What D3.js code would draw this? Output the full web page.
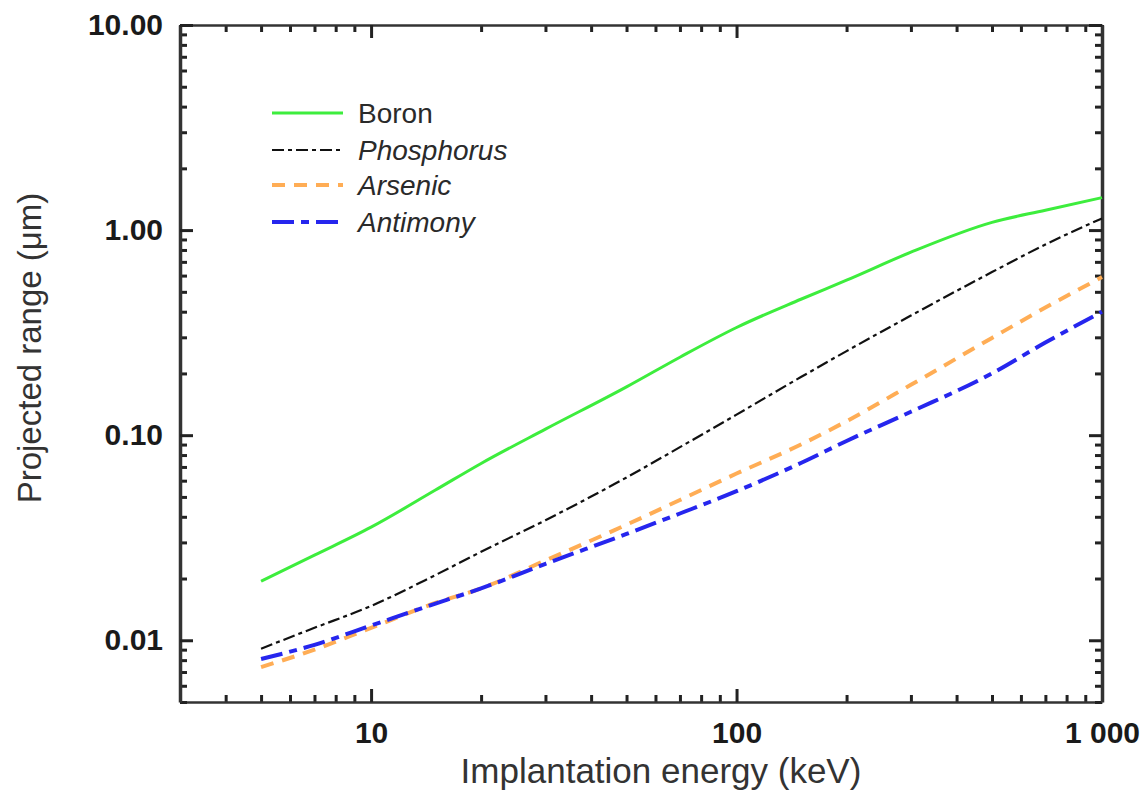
<!DOCTYPE html>
<html>
<head>
<meta charset="utf-8">
<script src="https://cdn.jsdelivr.net/npm/d3@7"></script>
<style>
body { margin: 0; background: #fff; }
text { font-family: "Liberation Sans", Arial, Helvetica, sans-serif; }
</style>
</head>
<body>
<div id="chart"></div>
<script>
/* data */
var energies   = [5, 7, 10, 15, 20, 30, 50, 70, 100, 150, 200, 300, 500, 700, 1000];
var boron      = [0.0194, 0.026, 0.0356, 0.054, 0.0728, 0.107, 0.172, 0.240, 0.335, 0.46, 0.57, 0.78, 1.09, 1.25, 1.44];
var phosphorus = [0.0091, 0.0115, 0.0147, 0.0208, 0.0270, 0.0385, 0.0622, 0.0874, 0.126, 0.192, 0.257, 0.383, 0.624, 0.851, 1.14];
var arsenic    = [0.0074, 0.0090, 0.0115, 0.0152, 0.0179, 0.0245, 0.0366, 0.0483, 0.065, 0.090, 0.117, 0.176, 0.298, 0.419, 0.59];
var antimony   = [0.0081, 0.0095, 0.0118, 0.0151, 0.0179, 0.0236, 0.033, 0.0415, 0.0533, 0.0732, 0.0937, 0.130, 0.200, 0.283, 0.40];

var seriesNames = ["Boron", "Phosphorus", "Arsenic", "Antimony"];
var seriesValues = [boron, phosphorus, arsenic, antimony];

var xTickValues = [10, 100, 1000];
var xTickLabels = ["10", "100", "1 000"];
var yTickValues = [0.01, 0.1, 1, 10];
var yTickLabels = ["0.01", "0.10", "1.00", "10.00"];

var xTitle = "Implantation energy (keV)";
var yTitle = "Projected range (\u03bcm)";

/* styles */
var colors  = ["#3ded3d", "#111111", "#ffad55", "#2626ee"];
var dashes  = [null, "12,4,4,4", "13,9", "22,7,8,7"];
var strokes = [3, 2.2, 4, 4];
var italic  = [false, true, true, true];

var width = 1145;
var height = 794;
var margin = {top: 25, right: 43, bottom: 92, left: 180};

var svg = d3.select("#chart").append("svg")
  .attr("width", width)
  .attr("height", height);

/* Scale */
var x = d3.scaleLog()
  .domain([3, 1000])
  .range([margin.left, width - margin.right]);

var y = d3.scaleLog()
  .domain([0.005, 10])
  .range([height - margin.bottom, margin.top]);

var xMinor = x.ticks().filter(function (d) { return xTickValues.indexOf(d) < 0; });
var yMinor = y.ticks().filter(function (d) { return yTickValues.map(String).indexOf(String(+d.toPrecision(3))) < 0; });

function fmt(values, labels) {
  return function (d) {
    var i = values.findIndex(function (v) { return Math.abs(v - d) / v < 1e-6; });
    return i >= 0 ? labels[i] : "";
  };
}

/* Axes: ticks point inward, top and right mirror bottom and left */
function drawAxis(axisFn, scale, major, minor, labels, tx, ty, pad, lineW) {
  var g = svg.append("g").attr("transform", "translate(" + tx + "," + ty + ")");
  g.append("g").call(axisFn(scale).tickValues(minor).tickSize(-7).tickSizeOuter(0).tickFormat(""))
    .call(function (s) { s.select(".domain").remove(); });
  var a = axisFn(scale).tickValues(major).tickSize(-13).tickSizeOuter(0).tickPadding(pad)
    .tickFormat(labels ? fmt(major, labels) : "");
  g.append("g").attr("class", "major").call(a);
  g.selectAll(".tick line").attr("stroke", "#222").attr("stroke-width", 3);
  g.select(".major .domain").attr("stroke", "#333").attr("stroke-width", lineW);
  g.selectAll("text")
    .attr("fill", "#1a1a1a")
    .style("font-size", "30px")
    .style("font-weight", "bold");
  return g;
}

drawAxis(d3.axisBottom, x, xTickValues, xMinor, xTickLabels, 0, height - margin.bottom, 20, 2.5);
drawAxis(d3.axisTop, x, xTickValues, xMinor, null, 0, margin.top, 0, 2.5);
drawAxis(d3.axisLeft, y, yTickValues, yMinor, yTickLabels, margin.left, 0, 17, 3.5);
drawAxis(d3.axisRight, y, yTickValues, yMinor, null, width - margin.right, 0, 0, 3.5);

/* Lines */
var line = d3.line()
  .x(function (d) { return x(d[0]); })
  .y(function (d) { return y(d[1]); })
  .curve(d3.curveMonotoneX);

svg.append("g").attr("class", "lines")
  .selectAll("path")
  .data(seriesValues).enter()
  .append("path")
  .attr("d", function (vals) { return line(energies.map(function (e, i) { return [e, vals[i]]; })); })
  .attr("fill", "none")
  .attr("stroke", function (d, i) { return colors[i]; })
  .attr("stroke-width", function (d, i) { return strokes[i]; })
  .attr("stroke-dasharray", function (d, i) { return dashes[i]; });

/* Legend */
var legendY = [113, 150, 185, 222];
var legend = svg.append("g").attr("class", "legend");
seriesNames.forEach(function (name, i) {
  legend.append("line")
    .attr("x1", 272).attr("x2", 343)
    .attr("y1", legendY[i]).attr("y2", legendY[i])
    .attr("stroke", colors[i])
    .attr("stroke-width", strokes[i])
    .attr("stroke-dasharray", dashes[i]);
  legend.append("text")
    .attr("x", 358).attr("y", legendY[i])
    .attr("dy", "0.35em")
    .attr("fill", "#2a2a2a")
    .style("font-size", "28px")
    .style("font-style", italic[i] ? "italic" : "normal")
    .text(name);
});

/* Axis titles */
svg.append("text")
  .attr("x", 661).attr("y", 783)
  .attr("text-anchor", "middle")
  .attr("fill", "#333")
  .style("font-size", "35px")
  .text(xTitle);

svg.append("text")
  .attr("transform", "translate(41,348) rotate(-90)")
  .attr("text-anchor", "middle")
  .attr("fill", "#333")
  .style("font-size", "33px")
  .text(yTitle);
</script>
</body>
</html>
